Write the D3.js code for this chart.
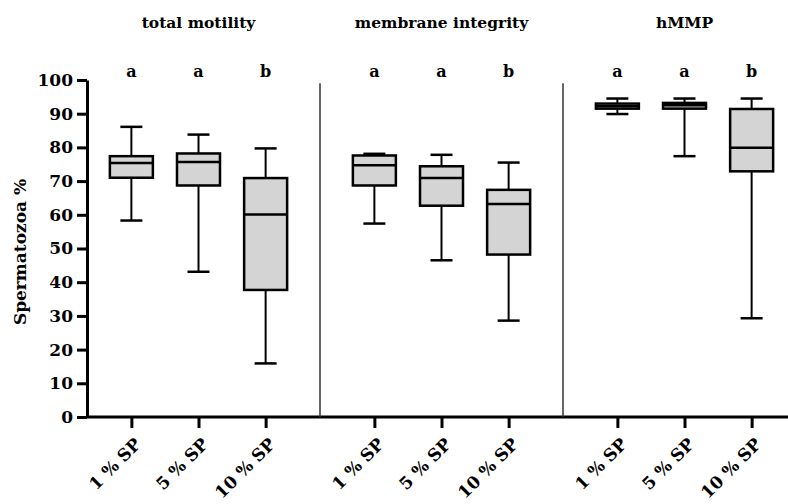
<!DOCTYPE html>
<html>
<head>
<meta charset="utf-8">
<script src="https://cdn.jsdelivr.net/npm/d3@7"></script>
<style>
  body { margin: 0; background: #fff; }
  svg text { font-family: "DejaVu Serif", serif; font-weight: bold; fill: #000; }
</style>
</head>
<body>
<div id="chart"></div>
<script>
const panels = ["total motility", "membrane integrity", "hMMP"];
const groups = ["1 % SP", "5 % SP", "10 % SP"];
const letters = [["a", "a", "b"], ["a", "a", "b"], ["a", "a", "b"]];

// one row per panel, one value per group
const whiskerLow = [[58.3, 43.1, 15.9], [57.4, 46.5, 28.6], [89.9, 77.4, 29.3]];
const q1 = [[71.0, 68.7, 37.7], [68.7, 62.7, 48.2], [91.5, 91.5, 72.9]];
const median = [[75.4, 75.7, 60.1], [74.7, 70.9, 63.2], [92.2, 92.5, 79.9]];
const q3 = [[77.4, 78.2, 70.9], [77.6, 74.4, 67.4], [93.0, 93.2, 91.4]];
const whiskerHigh = [[86.1, 83.8, 79.7], [78.1, 77.8, 75.5], [94.5, 94.5, 94.5]];
const yTicks = [0, 10, 20, 30, 40, 50, 60, 70, 80, 90, 100];

const W = 788, H = 504;
const svg = d3.select("#chart").append("svg")
    .attr("width", W)
    .attr("height", H);

const x0 = 87;
const y = d3.scaleLinear().domain([0, 100]).range([417, 80]);

const outer = d3.scaleBand().domain(panels).range([77, 806]);
const inner = d3.scalePoint().domain(groups).range([0, outer.bandwidth()]).padding(0.81);

const boxW = 43, capW = 22;

// y axis
const yAxis = svg.append("g")
    .attr("transform", "translate(" + x0 + ",0)")
    .call(d3.axisLeft(y).tickValues(yTicks).tickSize(10).tickSizeOuter(0).tickPadding(4));
yAxis.attr("font-family", null).attr("font-size", null);
yAxis.select(".domain").attr("stroke", "#000").attr("stroke-width", 3);
yAxis.selectAll(".tick line").attr("stroke", "#000").attr("stroke-width", 3);
yAxis.selectAll("text").style("font-size", "17px");

svg.append("text")
    .attr("transform", "translate(26,252) rotate(-90)")
    .attr("text-anchor", "middle")
    .style("font-size", "17px")
    .text("Spermatozoa %");

// x baseline
svg.append("line")
    .attr("x1", x0).attr("x2", W)
    .attr("y1", y(0)).attr("y2", y(0))
    .attr("stroke", "#000").attr("stroke-width", 3);

// separators
panels.slice(1).forEach(p => {
    svg.append("line")
        .attr("x1", outer(p)).attr("x2", outer(p))
        .attr("y1", y(99)).attr("y2", y(0))
        .attr("stroke", "#333").attr("stroke-width", 1.5);
});

panels.forEach((p, pi) => {
    const g = svg.append("g").attr("transform", "translate(" + outer(p) + ",0)");

    // x ticks and labels
    const xa = g.append("g")
        .attr("transform", "translate(0," + y(0) + ")")
        .call(d3.axisBottom(inner).tickSize(11).tickSizeOuter(0));
    xa.attr("font-family", null).attr("font-size", null);
    xa.select(".domain").remove();
    xa.selectAll(".tick line").attr("stroke", "#000").attr("stroke-width", 3);
    xa.selectAll("text")
        .attr("x", 0).attr("y", 0).attr("dy", "0.35em")
        .attr("transform", "translate(6,24) rotate(-45)")
        .style("text-anchor", "end")
        .style("font-size", "17px");

    // panel title
    g.append("text")
        .attr("x", inner(groups[1]))
        .attr("y", 28)
        .attr("text-anchor", "middle")
        .style("font-size", "15.5px")
        .text(p);

    groups.forEach((grp, gi) => {
        const cx = inner(grp);
        // whiskers
        g.append("line")
            .attr("x1", cx).attr("x2", cx)
            .attr("y1", y(whiskerHigh[pi][gi])).attr("y2", y(q3[pi][gi]))
            .attr("stroke", "#000").attr("stroke-width", 2);
        g.append("line")
            .attr("x1", cx).attr("x2", cx)
            .attr("y1", y(q1[pi][gi])).attr("y2", y(whiskerLow[pi][gi]))
            .attr("stroke", "#000").attr("stroke-width", 2);
        g.append("line")
            .attr("x1", cx - capW / 2).attr("x2", cx + capW / 2)
            .attr("y1", y(whiskerHigh[pi][gi])).attr("y2", y(whiskerHigh[pi][gi]))
            .attr("stroke", "#000").attr("stroke-width", 2.5);
        g.append("line")
            .attr("x1", cx - capW / 2).attr("x2", cx + capW / 2)
            .attr("y1", y(whiskerLow[pi][gi])).attr("y2", y(whiskerLow[pi][gi]))
            .attr("stroke", "#000").attr("stroke-width", 2.5);
        // box
        g.append("rect")
            .attr("x", cx - boxW / 2)
            .attr("y", y(q3[pi][gi]))
            .attr("width", boxW)
            .attr("height", y(q1[pi][gi]) - y(q3[pi][gi]))
            .attr("fill", "#d4d4d4")
            .attr("stroke", "#000").attr("stroke-width", 2.5);
        // median
        g.append("line")
            .attr("x1", cx - boxW / 2).attr("x2", cx + boxW / 2)
            .attr("y1", y(median[pi][gi])).attr("y2", y(median[pi][gi]))
            .attr("stroke", "#000").attr("stroke-width", 2.5);
        // significance letter
        g.append("text")
            .attr("x", cx)
            .attr("y", 77)
            .attr("text-anchor", "middle")
            .style("font-size", "16px")
            .text(letters[pi][gi]);
    });
});
</script>
</body>
</html>
